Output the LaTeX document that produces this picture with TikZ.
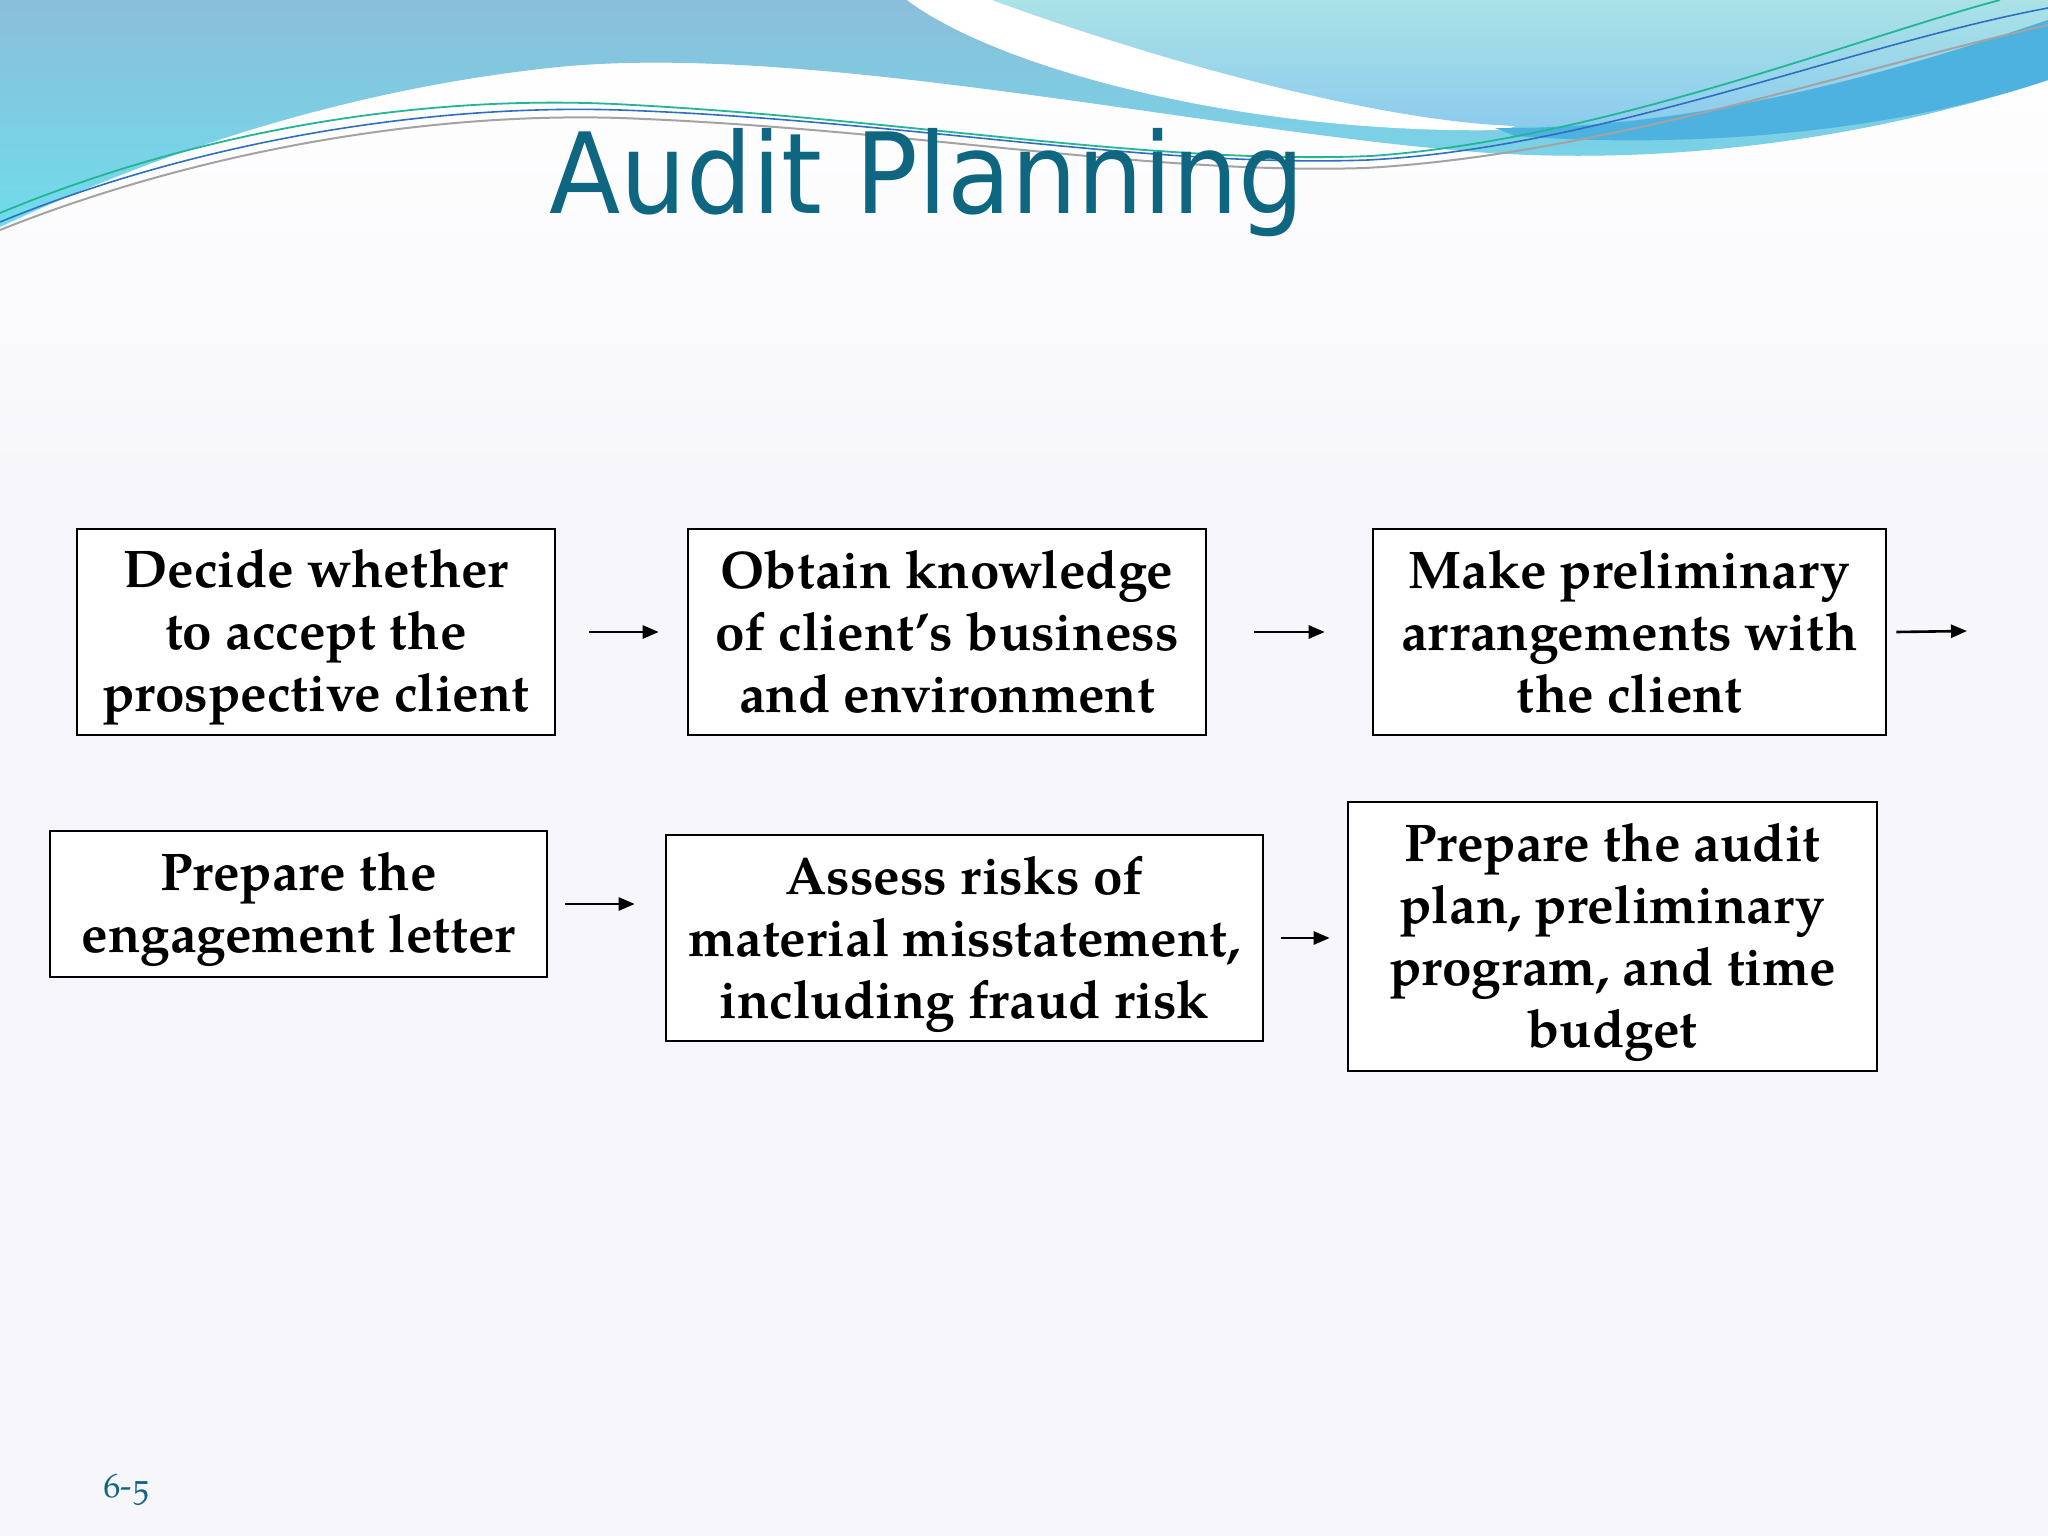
\documentclass[tikz,border=0pt]{standalone}
\usepackage{fontspec}
\setmainfont{TeX Gyre Pagella}
\newfontfamily\titlefont{DejaVu Sans}
\newfontfamily\numfont[Numbers=OldStyle]{TeX Gyre Pagella}
\usetikzlibrary{arrows.meta}
\definecolor{pagebg}{HTML}{F7F6FA}
\definecolor{titleteal}{HTML}{0E6680}
\definecolor{bluetop}{HTML}{8BBEDA}
\definecolor{bluebot}{HTML}{70DCEC}
\definecolor{lcyantop}{HTML}{AAE2E6}
\definecolor{lcyanbot}{HTML}{8CCBEE}
\definecolor{bandblue}{HTML}{4DB2E0}
\definecolor{linegreen}{HTML}{22B596}
\definecolor{lineblue}{HTML}{2F6FC0}
\definecolor{linegray}{HTML}{A3A3A3}
\newcommand{\lowtext}[2]{\raisebox{-#1}[\height][\depth]{\begin{tabular}{@{}c@{}}#2\end{tabular}}}
\tikzset{
  stepbox/.style={draw=black, line width=2.6pt, fill=white, align=center,
    inner sep=0pt, font=\bfseries\fontsize{53}{62}\selectfont},
  arr/.style={line width=2.6pt, -{Triangle[length=16pt,width=13pt]}},
}
\begin{document}
\begin{tikzpicture}[x=1pt,y=-1pt]
\useasboundingbox (0,0) rectangle (2048,1536);
\fill[pagebg] (0,0) rectangle (2048,1536);
% white glow under the wave
\shade[top color=white, bottom color=pagebg]
  (0,227) .. controls (100,180) and (300,95) .. (549,68)
  .. controls (800,40) and (1200,130) .. (1476,152)
  .. controls (1650,165) and (1850,145) .. (2048,80) -- (2048,480) -- (0,480) -- cycle;
% top waves
\shade[top color=bluetop, bottom color=bluebot]
  (0,0) -- (2048,0) -- (2048,80) .. controls (1850,145) and (1650,165) .. (1476,152)
  .. controls (1200,130) and (800,40) .. (549,68)
  .. controls (300,95) and (100,180) .. (0,227) -- cycle;
\fill[white] (907,0) .. controls (1000,70) and (1250,135) .. (1505,130) -- (1530,120) -- (2048,0) -- cycle;
\shade[top color=lcyantop, bottom color=lcyanbot]
  (992,0) -- (2048,0) -- (2048,20) .. controls (1900,70) and (1700,128) .. (1515,126)
  .. controls (1350,120) and (1100,40) .. (992,0) -- cycle;
\fill[bandblue] (1495,128) .. controls (1700,130) and (1900,70) .. (2048,20)
  -- (2048,80) .. controls (1900,130) and (1700,150) .. (1515,136) -- cycle;
\draw[linegray, line width=2pt] (0,230) .. controls (200,150) and (430,112) .. (620,118)
  .. controls (900,128) and (1150,175) .. (1365,168) .. controls (1600,155) and (1850,70) .. (2048,25);
\draw[lineblue, line width=1.6pt] (0,222) .. controls (200,140) and (430,104) .. (620,110)
  .. controls (900,120) and (1150,168) .. (1368,160) .. controls (1600,148) and (1850,45) .. (2048,8);
\draw[linegreen, line width=1.8pt] (0,213) .. controls (200,130) and (420,95) .. (614,104)
  .. controls (900,118) and (1150,165) .. (1371,156) .. controls (1600,140) and (1850,40) .. (2000,0);
% title
\node[anchor=base, text=titleteal, inner sep=0pt, xscale=0.93] (title) at (927,213)
  {\titlefont\fontsize{112}{130}\selectfont Audit Planning};
% boxes
\node[stepbox, minimum width=478pt, minimum height=206pt] (b1) at (316,632)
  {\lowtext{5pt}{Decide whether\\to accept the\\prospective client}};
\node[stepbox, minimum width=518pt, minimum height=206pt] (b2) at (947,632)
  {\lowtext{6pt}{Obtain knowledge\\of client’s business\\and environment}};
\node[stepbox, minimum width=513pt, minimum height=206pt] (b3) at (1629.5,632)
  {\lowtext{6pt}{Make preliminary\\arrangements with\\the client}};
\node[stepbox, minimum width=497pt, minimum height=146pt] (b4) at (298.5,904)
  {\lowtext{5pt}{Prepare the\\engagement letter}};
\node[stepbox, minimum width=597pt, minimum height=206pt] (b5) at (964.5,938)
  {\lowtext{6pt}{Assess risks of\\material misstatement,\\including fraud risk}};
\node[stepbox, minimum width=529pt, minimum height=269pt] (b6) at (1612.5,936.5)
  {\lowtext{6pt}{Prepare the audit\\plan, preliminary\\program, and time\\budget}};
\coordinate (endA3) at (1967,631);
% arrows
\draw[arr] ([xshift=33pt]b1.east) -- ([xshift=-28pt]b2.west);
\draw[arr] ([xshift=47pt]b2.east) -- ([xshift=-47pt]b3.west);
\draw[arr] ([xshift=9pt]b3.east) -- (endA3);
\draw[arr] ([xshift=17pt]b4.east) -- ([xshift=-30pt]b5.west|-b4.east);
\draw[arr] ([xshift=17pt]b5.east) -- ([xshift=-17pt]b6.west|-b5.east);
% page number
\node[anchor=base west, text=titleteal, inner sep=0pt] (pnum) at (103,1497)
  {\numfont\fontsize{34}{40}\selectfont 6-5};
\end{tikzpicture}
\end{document}
